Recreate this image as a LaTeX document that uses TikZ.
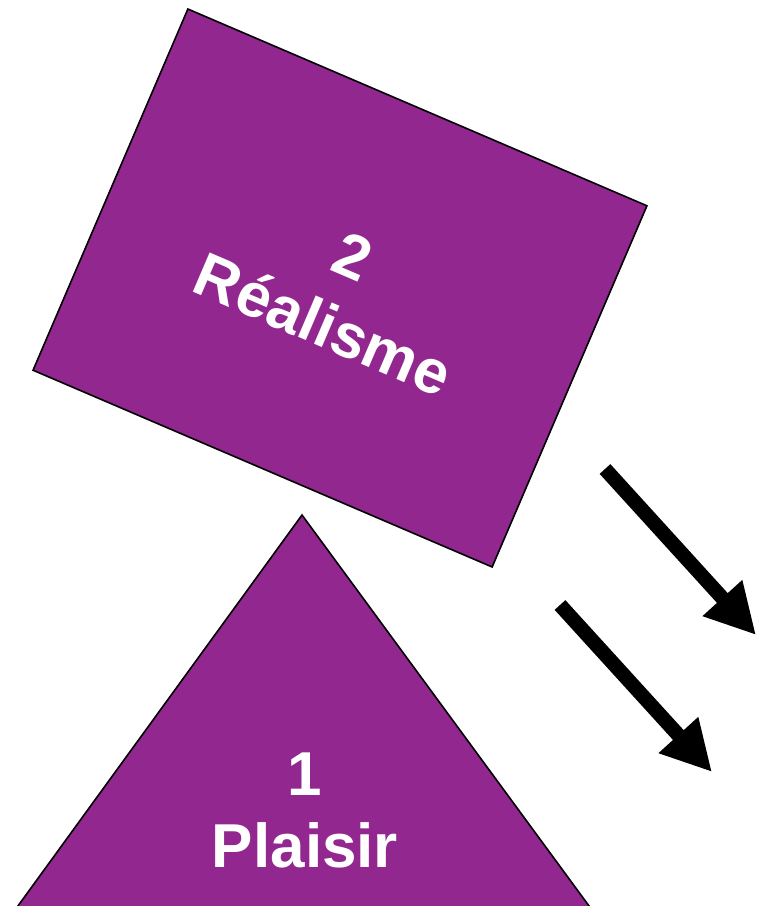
\documentclass[tikz,border=0pt]{standalone}
\usepackage{fontspec}
\setmainfont{Liberation Sans}
\usetikzlibrary{arrows.meta}
\definecolor{violetbox}{RGB}{145,39,143}
\tikzset{
  shapefill/.style={fill=violetbox, draw=black, line width=1.6bp},
  labeltext/.style={text=white, align=center, font=\bfseries},
  bigarrow/.style={draw=black, line width=14.5bp, -{Triangle[length=50bp,width=50bp]}}
}
\begin{document}
\begin{tikzpicture}[x=1bp,y=-1bp]
\useasboundingbox (0,0) rectangle (765,906);
\clip (0,0) rectangle (765,906);
% rotated rectangle
\node[shapefill, rectangle, minimum width=499.5bp, minimum height=393bp, rotate=-23.2, inner sep=0pt] (realisme) at (340,288) {};
\node[labeltext, rotate=-23.2, font=\bfseries\fontsize{62bp}{74bp}\selectfont] (realtxt) at (338,291) {2\\Réalisme};
% triangle
\coordinate (apex) at (302,515);
\coordinate (bl) at (15,910);
\coordinate (br) at (592,910);
\draw[shapefill] (apex) -- (bl) -- (br) -- cycle;
\node[labeltext, font=\bfseries\fontsize{62bp}{72bp}\selectfont] (plaisir) at (305,810) {1\\Plaisir};
% arrows
\coordinate (a1s) at (605,469);
\coordinate (a1e) at (756,635);
\coordinate (a2s) at (560,605);
\coordinate (a2e) at (712,772);
\draw[bigarrow] (a1s) -- (a1e);
\draw[bigarrow] (a2s) -- (a2e);
\end{tikzpicture}
\end{document}
